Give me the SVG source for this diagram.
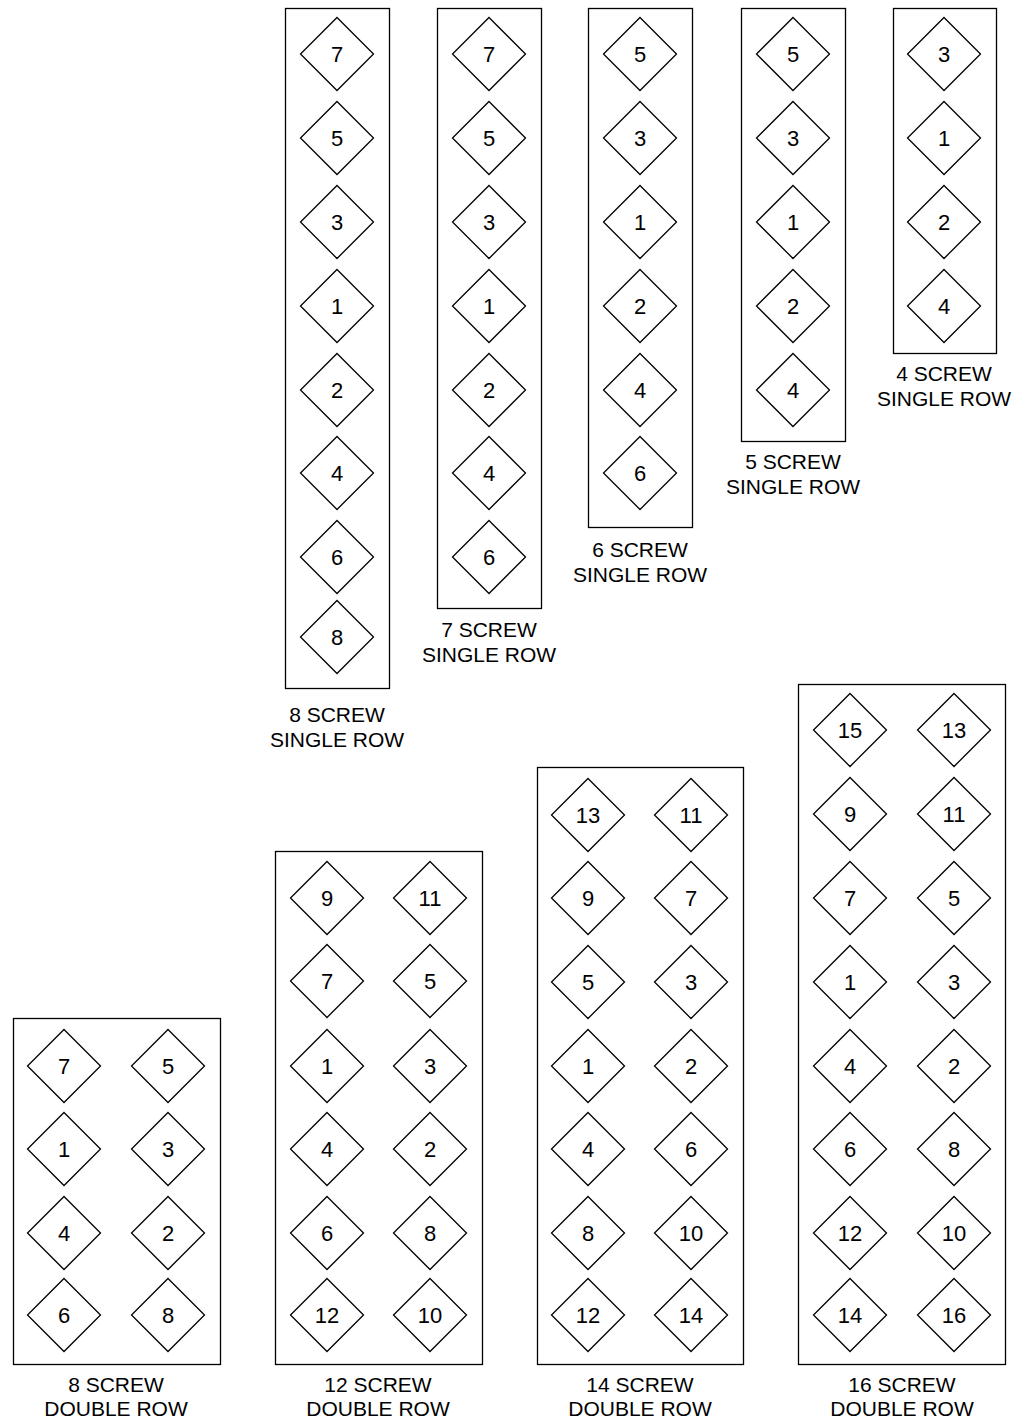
<svg xmlns="http://www.w3.org/2000/svg" xmlns:xlink="http://www.w3.org/1999/xlink" width="1024" height="1420" viewBox="0 0 1024 1420">
<style>
.box{fill:#fff;stroke:#000;stroke-width:1.3}
.dm{fill:#fff;stroke:#000;stroke-width:1.3}
.n{font-family:"Liberation Sans",Arial,sans-serif;font-size:22px;text-anchor:middle;fill:#000}
.lb{font-family:"Liberation Sans",Arial,sans-serif;font-size:21px;text-anchor:middle;fill:#000}
</style>
<defs>
<path id="d" class="dm" d="M0,-36.5 L36.5,0 L0,36.5 L-36.5,0 Z"/>
</defs>
<rect width="1024" height="1420" fill="#fff"/>

<g id="s8">
<rect class="box" x="285.5" y="8.5" width="104" height="680"/>
<use href="#d" x="337" y="54"/><use href="#d" x="337" y="138"/><use href="#d" x="337" y="222"/><use href="#d" x="337" y="306"/><use href="#d" x="337" y="390"/><use href="#d" x="337" y="473"/><use href="#d" x="337" y="557"/><use href="#d" x="337" y="637"/>
<text class="n" x="337" y="62">7</text><text class="n" x="337" y="146">5</text><text class="n" x="337" y="230">3</text><text class="n" x="337" y="314">1</text><text class="n" x="337" y="398">2</text><text class="n" x="337" y="481">4</text><text class="n" x="337" y="565">6</text><text class="n" x="337" y="645">8</text>
<text class="lb" x="337" y="722">8 SCREW</text><text class="lb" x="337" y="747">SINGLE ROW</text>
</g>

<g id="s7">
<rect class="box" x="437.5" y="8.5" width="104" height="600"/>
<use href="#d" x="489" y="54"/><use href="#d" x="489" y="138"/><use href="#d" x="489" y="222"/><use href="#d" x="489" y="306"/><use href="#d" x="489" y="390"/><use href="#d" x="489" y="473"/><use href="#d" x="489" y="557"/>
<text class="n" x="489" y="62">7</text><text class="n" x="489" y="146">5</text><text class="n" x="489" y="230">3</text><text class="n" x="489" y="314">1</text><text class="n" x="489" y="398">2</text><text class="n" x="489" y="481">4</text><text class="n" x="489" y="565">6</text>
<text class="lb" x="489" y="637">7 SCREW</text><text class="lb" x="489" y="662">SINGLE ROW</text>
</g>

<g id="s6">
<rect class="box" x="588.5" y="8.5" width="104" height="519"/>
<use href="#d" x="640" y="54"/><use href="#d" x="640" y="138"/><use href="#d" x="640" y="222"/><use href="#d" x="640" y="306"/><use href="#d" x="640" y="390"/><use href="#d" x="640" y="473"/>
<text class="n" x="640" y="62">5</text><text class="n" x="640" y="146">3</text><text class="n" x="640" y="230">1</text><text class="n" x="640" y="314">2</text><text class="n" x="640" y="398">4</text><text class="n" x="640" y="481">6</text>
<text class="lb" x="640" y="557">6 SCREW</text><text class="lb" x="640" y="582">SINGLE ROW</text>
</g>

<g id="s5">
<rect class="box" x="741.5" y="8.5" width="104" height="433"/>
<use href="#d" x="793" y="54"/><use href="#d" x="793" y="138"/><use href="#d" x="793" y="222"/><use href="#d" x="793" y="306"/><use href="#d" x="793" y="390"/>
<text class="n" x="793" y="62">5</text><text class="n" x="793" y="146">3</text><text class="n" x="793" y="230">1</text><text class="n" x="793" y="314">2</text><text class="n" x="793" y="398">4</text>
<text class="lb" x="793" y="469">5 SCREW</text><text class="lb" x="793" y="494">SINGLE ROW</text>
</g>

<g id="s4">
<rect class="box" x="893.5" y="8.5" width="103" height="345"/>
<use href="#d" x="944" y="54"/><use href="#d" x="944" y="138"/><use href="#d" x="944" y="222"/><use href="#d" x="944" y="306"/>
<text class="n" x="944" y="62">3</text><text class="n" x="944" y="146">1</text><text class="n" x="944" y="230">2</text><text class="n" x="944" y="314">4</text>
<text class="lb" x="944" y="381">4 SCREW</text><text class="lb" x="944" y="406">SINGLE ROW</text>
</g>

<g id="d8">
<rect class="box" x="13.5" y="1018.5" width="207" height="346"/>
<use href="#d" x="64" y="1066"/><use href="#d" x="168" y="1066"/>
<use href="#d" x="64" y="1149"/><use href="#d" x="168" y="1149"/>
<use href="#d" x="64" y="1233"/><use href="#d" x="168" y="1233"/>
<use href="#d" x="64" y="1315"/><use href="#d" x="168" y="1315"/>
<text class="n" x="64" y="1074">7</text><text class="n" x="168" y="1074">5</text>
<text class="n" x="64" y="1157">1</text><text class="n" x="168" y="1157">3</text>
<text class="n" x="64" y="1241">4</text><text class="n" x="168" y="1241">2</text>
<text class="n" x="64" y="1323">6</text><text class="n" x="168" y="1323">8</text>
<text class="lb" x="116" y="1392">8 SCREW</text><text class="lb" x="116" y="1416">DOUBLE ROW</text>
</g>

<g id="d12">
<rect class="box" x="275.5" y="851.5" width="207" height="513"/>
<use href="#d" x="327" y="898"/><use href="#d" x="430" y="898"/>
<use href="#d" x="327" y="981"/><use href="#d" x="430" y="981"/>
<use href="#d" x="327" y="1066"/><use href="#d" x="430" y="1066"/>
<use href="#d" x="327" y="1149"/><use href="#d" x="430" y="1149"/>
<use href="#d" x="327" y="1233"/><use href="#d" x="430" y="1233"/>
<use href="#d" x="327" y="1315"/><use href="#d" x="430" y="1315"/>
<text class="n" x="327" y="906">9</text><text class="n" x="430" y="906">11</text>
<text class="n" x="327" y="989">7</text><text class="n" x="430" y="989">5</text>
<text class="n" x="327" y="1074">1</text><text class="n" x="430" y="1074">3</text>
<text class="n" x="327" y="1157">4</text><text class="n" x="430" y="1157">2</text>
<text class="n" x="327" y="1241">6</text><text class="n" x="430" y="1241">8</text>
<text class="n" x="327" y="1323">12</text><text class="n" x="430" y="1323">10</text>
<text class="lb" x="378" y="1392">12 SCREW</text><text class="lb" x="378" y="1416">DOUBLE ROW</text>
</g>

<g id="d14">
<rect class="box" x="537.5" y="767.5" width="206" height="597"/>
<use href="#d" x="588" y="815"/><use href="#d" x="691" y="815"/>
<use href="#d" x="588" y="898"/><use href="#d" x="691" y="898"/>
<use href="#d" x="588" y="982"/><use href="#d" x="691" y="982"/>
<use href="#d" x="588" y="1066"/><use href="#d" x="691" y="1066"/>
<use href="#d" x="588" y="1149"/><use href="#d" x="691" y="1149"/>
<use href="#d" x="588" y="1233"/><use href="#d" x="691" y="1233"/>
<use href="#d" x="588" y="1315"/><use href="#d" x="691" y="1315"/>
<text class="n" x="588" y="823">13</text><text class="n" x="691" y="823">11</text>
<text class="n" x="588" y="906">9</text><text class="n" x="691" y="906">7</text>
<text class="n" x="588" y="990">5</text><text class="n" x="691" y="990">3</text>
<text class="n" x="588" y="1074">1</text><text class="n" x="691" y="1074">2</text>
<text class="n" x="588" y="1157">4</text><text class="n" x="691" y="1157">6</text>
<text class="n" x="588" y="1241">8</text><text class="n" x="691" y="1241">10</text>
<text class="n" x="588" y="1323">12</text><text class="n" x="691" y="1323">14</text>
<text class="lb" x="640" y="1392">14 SCREW</text><text class="lb" x="640" y="1416">DOUBLE ROW</text>
</g>

<g id="d16">
<rect class="box" x="798.5" y="684.5" width="207" height="680"/>
<use href="#d" x="850" y="730"/><use href="#d" x="954" y="730"/>
<use href="#d" x="850" y="814"/><use href="#d" x="954" y="814"/>
<use href="#d" x="850" y="898"/><use href="#d" x="954" y="898"/>
<use href="#d" x="850" y="982"/><use href="#d" x="954" y="982"/>
<use href="#d" x="850" y="1066"/><use href="#d" x="954" y="1066"/>
<use href="#d" x="850" y="1149"/><use href="#d" x="954" y="1149"/>
<use href="#d" x="850" y="1233"/><use href="#d" x="954" y="1233"/>
<use href="#d" x="850" y="1315"/><use href="#d" x="954" y="1315"/>
<text class="n" x="850" y="738">15</text><text class="n" x="954" y="738">13</text>
<text class="n" x="850" y="822">9</text><text class="n" x="954" y="822">11</text>
<text class="n" x="850" y="906">7</text><text class="n" x="954" y="906">5</text>
<text class="n" x="850" y="990">1</text><text class="n" x="954" y="990">3</text>
<text class="n" x="850" y="1074">4</text><text class="n" x="954" y="1074">2</text>
<text class="n" x="850" y="1157">6</text><text class="n" x="954" y="1157">8</text>
<text class="n" x="850" y="1241">12</text><text class="n" x="954" y="1241">10</text>
<text class="n" x="850" y="1323">14</text><text class="n" x="954" y="1323">16</text>
<text class="lb" x="902" y="1392">16 SCREW</text><text class="lb" x="902" y="1416">DOUBLE ROW</text>
</g>
</svg>
